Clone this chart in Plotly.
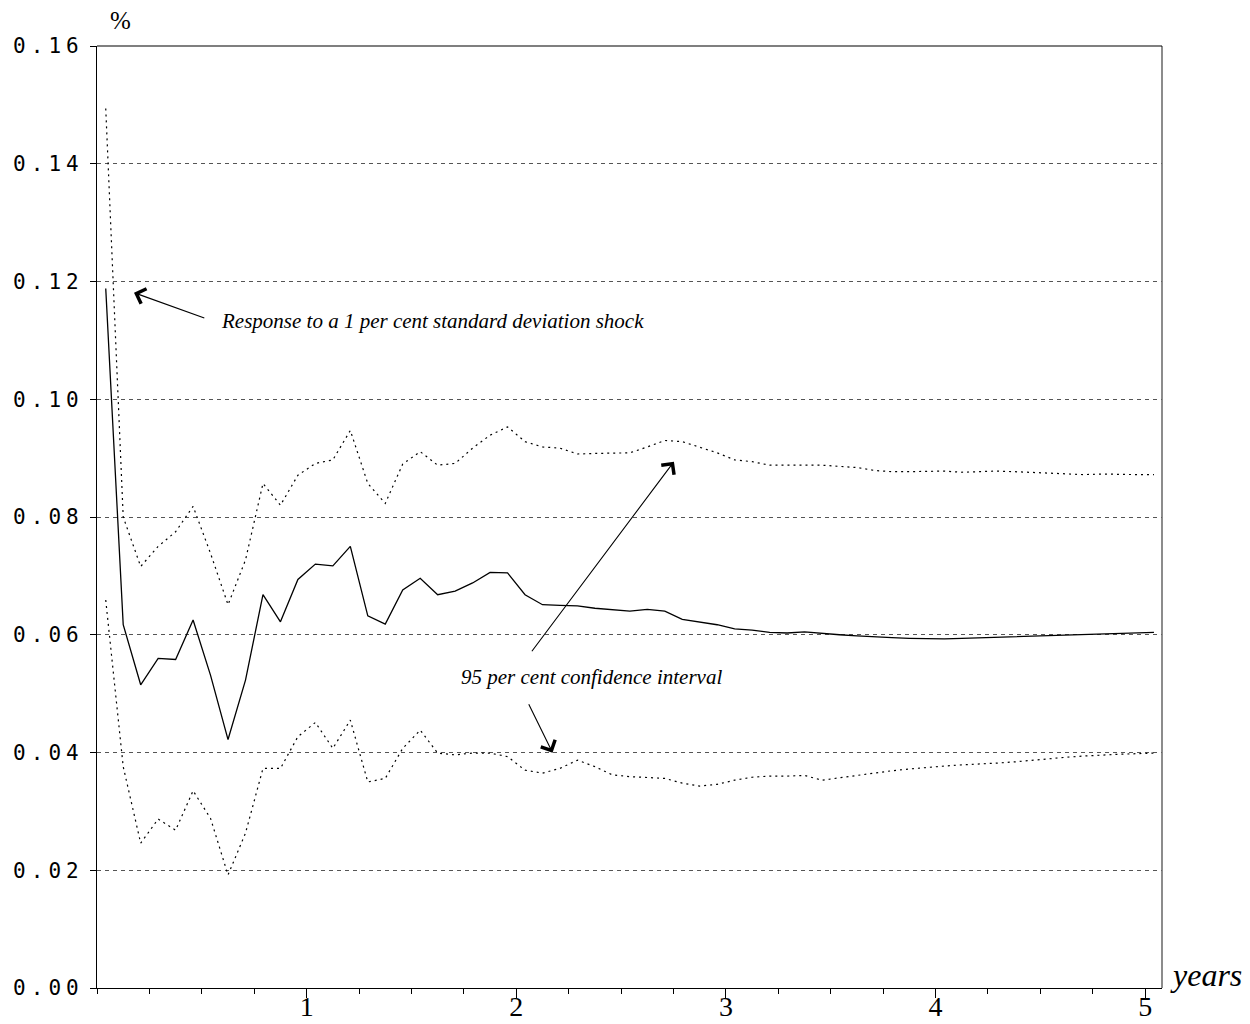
import plotly.graph_objects as go

# Monthly horizon (0..60); each observation sits mid-month on the year axis
months = list(range(61))

response = [
    0.1188, 0.0617, 0.0515, 0.0560, 0.0558, 0.0625, 0.0531, 0.0422, 0.0523, 0.0668,
    0.0622, 0.0694, 0.0720, 0.0717, 0.0750, 0.0632, 0.0618, 0.0676, 0.0696, 0.0668,
    0.0674, 0.0688, 0.0706, 0.0705, 0.0668, 0.0651, 0.0650, 0.0649, 0.0645, 0.0642,
    0.0640, 0.0643, 0.0640, 0.0626, 0.0622, 0.0617, 0.0610, 0.0608, 0.0604, 0.0603,
    0.0605, 0.0602, 0.0600, 0.0598, 0.0596, 0.0595, 0.0594, 0.0593, 0.0593, 0.0594,
    0.0595, 0.0596, 0.0597, 0.0597, 0.0598, 0.0599, 0.0600, 0.0601, 0.0602, 0.0603,
    0.0604,
]

upper = [
    0.1494, 0.0800, 0.0716, 0.0750, 0.0775, 0.0818, 0.0738, 0.0651, 0.0727, 0.0857,
    0.0820, 0.0871, 0.0891, 0.0897, 0.0947, 0.0857, 0.0823, 0.0890, 0.0911, 0.0888,
    0.0891, 0.0917, 0.0939, 0.0953, 0.0928, 0.0919, 0.0917, 0.0907, 0.0908, 0.0908,
    0.0909, 0.0919, 0.0930, 0.0928, 0.0919, 0.0909, 0.0897, 0.0894, 0.0888, 0.0888,
    0.0889, 0.0888, 0.0886, 0.0884, 0.0879, 0.0877, 0.0877, 0.0878, 0.0878, 0.0876,
    0.0877, 0.0878, 0.0877, 0.0876, 0.0874, 0.0873, 0.0872, 0.0873, 0.0872, 0.0872,
    0.0872,
]

lower = [
    0.0659, 0.0376, 0.0246, 0.0287, 0.0268, 0.0335, 0.0288, 0.0192, 0.0263, 0.0373,
    0.0373, 0.0427, 0.0451, 0.0407, 0.0455, 0.0350, 0.0356, 0.0407, 0.0438, 0.0399,
    0.0396, 0.0399, 0.0399, 0.0393, 0.0370, 0.0365, 0.0373, 0.0387, 0.0376, 0.0362,
    0.0359, 0.0358, 0.0356, 0.0348, 0.0343, 0.0346, 0.0353, 0.0358, 0.0360, 0.0360,
    0.0361, 0.0353, 0.0357, 0.0362, 0.0366, 0.0369, 0.0372, 0.0375, 0.0377, 0.0379,
    0.0380, 0.0382, 0.0384, 0.0387, 0.0389, 0.0392, 0.0394, 0.0396, 0.0397, 0.0398,
    0.0399,
]

y_ticks = [0.00, 0.02, 0.04, 0.06, 0.08, 0.10, 0.12, 0.14, 0.16]
y_labels = ["0.00", "0.02", "0.04", "0.06", "0.08", "0.10", "0.12", "0.14", "0.16"]
x_ticks = [1, 2, 3, 4, 5]
x_labels = ["1", "2", "3", "4", "5"]

years = [(m + 0.5) / 12 for m in months]

SERIF = "Liberation Serif, Times New Roman, serif"
MONO = "DejaVu Sans Mono, monospace"

fig = go.Figure()

for band in (upper, lower):
    fig.add_trace(go.Scatter(
        x=years, y=band, mode="lines",
        line=dict(color="black", width=1.2, dash="2px,4px"),
        hoverinfo="skip",
    ))

fig.add_trace(go.Scatter(
    x=years, y=response, mode="lines",
    line=dict(color="black", width=1.3),
    hoverinfo="skip",
))

annotations = []

# Arrow pointing at the point estimate
annotations.append(dict(
    x=0.1765, y=0.1181, ax=0.519, ay=0.1137,
    xref="x", yref="y", axref="x", ayref="y",
    text="", showarrow=True, arrowhead=4, arrowsize=2.8, arrowwidth=1.1,
    arrowcolor="black",
))
annotations.append(dict(
    x=0.580, y=0.1133, xref="x", yref="y",
    text="Response to a 1 per cent standard deviation shock",
    showarrow=False, xanchor="left", yanchor="middle",
    font=dict(family=SERIF, size=21, color="black", style="italic"),
))

# Arrows pointing at the confidence bands
annotations.append(dict(
    x=2.752, y=0.0894, ax=2.069, ay=0.05695,
    xref="x", yref="y", axref="x", ayref="y",
    text="", showarrow=True, arrowhead=4, arrowsize=2.8, arrowwidth=1.1,
    arrowcolor="black",
))
annotations.append(dict(
    x=2.173, y=0.03997, ax=2.056, ay=0.04846,
    xref="x", yref="y", axref="x", ayref="y",
    text="", showarrow=True, arrowhead=4, arrowsize=2.8, arrowwidth=1.1,
    arrowcolor="black",
))
annotations.append(dict(
    x=2.358, y=0.0528, xref="x", yref="y",
    text="95 per cent confidence interval",
    showarrow=False, xanchor="center", yanchor="middle",
    font=dict(family=SERIF, size=21, color="black", style="italic"),
))

# Axis captions
annotations.append(dict(
    x=1, y=0, xref="paper", yref="y", xanchor="left", yanchor="middle",
    xshift=6, yshift=13, text="years", showarrow=False,
    font=dict(family=SERIF, size=32, color="black", style="italic"),
))
annotations.append(dict(
    x=0, y=1, xref="paper", yref="paper", xanchor="center", yanchor="middle",
    xshift=23, yshift=26, text="%", showarrow=False,
    font=dict(family=SERIF, size=25, color="black"),
))

fig.update_layout(
    width=1250, height=1024,
    margin=dict(l=97, r=88, t=46, b=36, autoexpand=False),
    paper_bgcolor="white", plot_bgcolor="white",
    showlegend=False,
    annotations=annotations,
    shapes=[dict(
        type="line", xref="paper", yref="paper", x0=1, x1=1, y0=0, y1=1,
        line=dict(color="#666666", width=1.5),
    )],
)

fig.update_xaxes(
    range=[0, 5.08], automargin=False,
    tickvals=x_ticks, ticktext=x_labels,
    ticks="outside", ticklen=9, tickwidth=1, tickcolor="black",
    minor=dict(dtick=0.25, tick0=0, ticks="outside", ticklen=5,
               tickwidth=1, tickcolor="black", showgrid=False),
    showgrid=False, zeroline=False,
    showline=True, linecolor="black", linewidth=1.2, mirror=False,
    tickfont=dict(family=SERIF, size=28, color="black"),
    ticklabelstandoff=-16,
)

fig.update_yaxes(
    range=[0, 0.16], automargin=False,
    tickvals=y_ticks,
    ticktext=[f'<span style="letter-spacing:5px">{t}</span>' for t in y_labels],
    ticks="outside", ticklen=6, tickwidth=1, tickcolor="black",
    showgrid=True, gridcolor="#555555", gridwidth=1, griddash="4px,4px",
    zeroline=False,
    showline=True, linecolor="black", linewidth=1.2, mirror=False,
    tickfont=dict(family=MONO, size=21, color="black"),
    ticklabelstandoff=2,
)

# Top frame edge
fig.add_shape(type="line", xref="paper", yref="paper", x0=0, x1=1, y0=1, y1=1,
              line=dict(color="black", width=1.2))

fig.write_html("out.html")
